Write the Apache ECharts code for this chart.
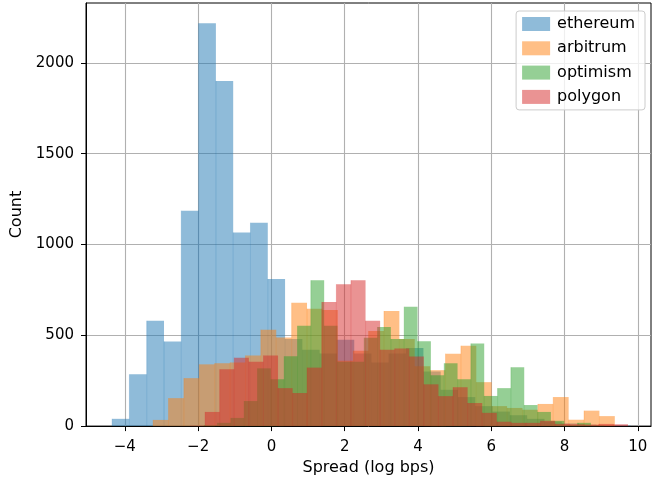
<!DOCTYPE html>
<html>
<head>
<meta charset="utf-8">
<script src="https://cdn.jsdelivr.net/npm/echarts@6/dist/echarts.min.js"></script>
<style>
html,body{margin:0;padding:0;background:#fff;}
#chart{width:652px;height:481px;}
</style>
</head>
<body>
<div id="chart"></div>
<script>
// ---- data ----
const seriesNames = ['ethereum', 'arbitrum', 'optimism', 'polygon'];
const seriesColors = ['#1f77b4', '#ff7f0e', '#2ca02c', '#d62728'];

const ethereumStart = -4.347;
const ethereumWidth = 0.472;
const ethereumCounts = [40, 285, 580, 466, 1186, 2218, 1901, 1066, 1120, 810, 480, 420, 400, 475, 400, 350, 400, 430, 300, 200, 160, 110, 80, 60, 40, 25, 15, 8, 4, 2];

const arbitrumStart = -3.228;
const arbitrumWidth = 0.420;
const arbitrumCounts = [34, 154, 264, 340, 346, 350, 389, 531, 488, 679, 646, 640, 360, 415, 524, 634, 480, 330, 308, 399, 443, 242, 110, 100, 90, 122, 160, 35, 85, 55];

const optimismStart = -1.836;
const optimismWidth = 0.364;
const optimismCounts = [5, 18, 45, 138, 318, 258, 384, 552, 803, 552, 355, 355, 487, 546, 480, 657, 467, 280, 346, 258, 455, 166, 209, 324, 116, 78, 29, 5, 18, 3];

const polygonStart = -2.207;
const polygonWidth = 0.398;
const polygonCounts = [2, 78, 313, 377, 355, 389, 209, 182, 322, 683, 781, 803, 580, 420, 427, 383, 230, 165, 214, 127, 73, 24, 18, 18, 29, 12, 10, 8, 12, 10];

const xTickValues = [-4, -2, 0, 2, 4, 6, 8, 10];
const yTickValues = [0, 500, 1000, 1500, 2000];

const xMin = -5.06, xMax = 10.36;
const yMin = 0, yMax = 2330;

// ---- build ----
const hists = [
  [ethereumStart, ethereumWidth, ethereumCounts],
  [arbitrumStart, arbitrumWidth, arbitrumCounts],
  [optimismStart, optimismWidth, optimismCounts],
  [polygonStart, polygonWidth, polygonCounts]
];

function binData(start, width, counts) {
  return counts.map((c, i) => [start + i * width, start + (i + 1) * width, c]);
}

const FONT = 'DejaVu Sans';
const FS_TICK = 15;
const FS_LABEL = 16;

const series = hists.map((h, si) => ({
  name: seriesNames[si],
  type: 'custom',
  data: binData(h[0], h[1], h[2]),
  encode: { x: [0, 1], y: 2 },
  itemStyle: { color: seriesColors[si], opacity: 0.5 },
  renderItem: function (params, api) {
    const p0 = api.coord([api.value(0), api.value(2)]);
    const p1 = api.coord([api.value(1), 0]);
    const col = seriesColors[si];
    return {
      type: 'group',
      children: [
        {
          type: 'rect',
          shape: { x: p0[0], y: p0[1], width: p1[0] - p0[0], height: p1[1] - p0[1] },
          style: { fill: col, opacity: 0.5 }
        },
        {
          type: 'line',
          shape: { x1: p0[0], y1: p0[1], x2: p0[0], y2: p1[1] },
          style: { stroke: col, lineWidth: 0.8, opacity: 0.3 }
        }
      ]
    };
  },
  z: 2 + si
}));

const chart = echarts.init(document.getElementById('chart'), null, { renderer: 'canvas' });
chart.setOption({
  animation: false,
  backgroundColor: '#ffffff',
  grid: {
    left: 86, right: 1, top: 3, bottom: 52,
    show: true, borderColor: '#000', borderWidth: 1, backgroundColor: 'transparent',
    containLabel: false
  },
  legend: {
    orient: 'vertical',
    right: 7, top: 11,
    data: seriesNames.map((n, i) => ({ name: n, icon: 'rect', itemStyle: { color: seriesColors[i], opacity: 0.5 } })),
    itemWidth: 28, itemHeight: 14, itemGap: 8.3,
    padding: [5, 10, 5, 6],
    backgroundColor: 'rgba(255,255,255,0.8)',
    borderColor: '#cccccc', borderWidth: 1, borderRadius: 3,
    textStyle: { fontFamily: FONT, fontSize: FS_LABEL, color: '#000', padding: [0, 0, 0, 2] },
    selectedMode: false
  },
  xAxis: {
    type: 'value',
    min: xMin, max: xMax,
    splitNumber: 7,
    name: 'Spread (log bps)',
    nameLocation: 'middle',
    nameGap: 30,
    nameTextStyle: { fontFamily: FONT, fontSize: FS_LABEL, color: '#000' },
    axisLine: { show: true, onZero: false, lineStyle: { color: '#000', width: 1 } },
    axisTick: { show: true, inside: false, length: 5, lineStyle: { color: '#000', width: 1 },
      customValues: xTickValues },
    axisLabel: {
      fontFamily: FONT, fontSize: FS_TICK, color: '#000', margin: 14,
      customValues: xTickValues,
      formatter: v => String(v).replace('-', '\u2212')
    },
    splitLine: { show: true, lineStyle: { color: '#b0b0b0', width: 1.1 } }
  },
  yAxis: {
    type: 'value',
    min: yMin, max: yMax,
    interval: 500,
    name: 'Count',
    nameLocation: 'middle',
    nameGap: 55,
    nameTextStyle: { fontFamily: FONT, fontSize: FS_LABEL, color: '#000' },
    axisLine: { show: true, onZero: false, lineStyle: { color: '#000', width: 1 } },
    axisTick: { show: true, inside: false, length: 5, lineStyle: { color: '#000', width: 1 },
      customValues: yTickValues },
    axisLabel: {
      fontFamily: FONT, fontSize: FS_TICK, color: '#000', margin: 12,
      customValues: yTickValues,
      formatter: v => String(v)
    },
    splitLine: { show: true, lineStyle: { color: '#b0b0b0', width: 1.1 } }
  },
  series: series
});
</script>
</body>
</html>
